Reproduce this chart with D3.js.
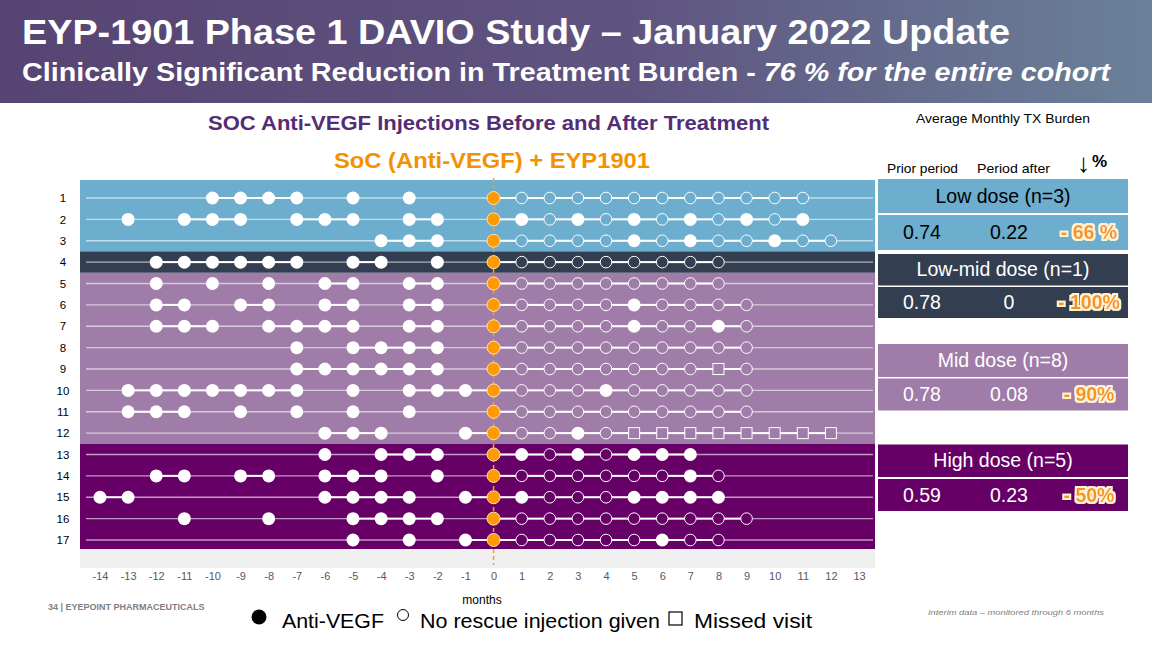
<!DOCTYPE html>
<html><head><meta charset="utf-8">
<script src="https://cdn.jsdelivr.net/npm/d3@7"></script>
<style>body{margin:0;background:#fff;} svg{display:block;font-family:"Liberation Sans",Arial,sans-serif;}</style>
</head><body><svg id="c" width="1152" height="648" font-family="Liberation Sans, Arial, sans-serif"></svg>
<script>
// ---------- DATA ----------
const patients = d3.range(1, 18);
const monthTicks = d3.range(-14, 14);
// months with Anti-VEGF injection before treatment (per patient)
const preInjections = [
  [-10,-9,-8,-7,-5,-3],
  [-13,-11,-10,-9,-7,-6,-5,-3,-2],
  [-4,-3,-2],
  [-12,-11,-10,-9,-8,-7,-5,-4,-2],
  [-12,-10,-8,-6,-5,-3,-2],
  [-12,-11,-9,-8,-6,-5,-3,-2],
  [-12,-11,-10,-8,-7,-6,-5,-3,-2],
  [-7,-5,-4,-3,-2],
  [-7,-6,-5,-4,-3,-2],
  [-13,-12,-11,-10,-9,-8,-7,-5,-3,-2,-1],
  [-13,-12,-11,-9,-7,-5,-3],
  [-6,-5,-4,-1],
  [-6,-4,-3,-2],
  [-12,-11,-9,-8,-6,-5,-4,-2],
  [-14,-13,-6,-5,-4,-3,-1],
  [-11,-8,-5,-4,-3,-2],
  [-5,-3,-1]
];
// visits after treatment, months 1..n : F = Anti-VEGF, O = no rescue injection, S = missed visit
const postVisits = [
  "OOOOOOOOOOO",
  "FOFOFOFOFOF",
  "OOOOFOFOOFOO",
  "OOOOOOOO",
  "OOOOOOOO",
  "OOOOFOOOO",
  "OOOOFOOFO",
  "OOOOOOOOO",
  "OOOOOOOSO",
  "OOOFOOOOO",
  "OOOOOOOOO",
  "OOFOSSSSSSSS",
  "FOFOFFF",
  "OOOOOOFO",
  "FOOOFFFF",
  "OOOOOOOOO",
  "OOOOOFOO"
];
const groupNames = ["Low dose (n=3)", "Low-mid dose (n=1)", "Mid dose (n=8)", "High dose (n=5)"];
const groupFirst = [1, 4, 5, 13];
const groupLast  = [3, 4, 12, 17];
const groupColors = ["#6dadce", "#333f50", "#a07ca8", "#660066"];
const groupText = ["#000", "#fff", "#fff", "#fff"];
const priorPeriod = ["0.74", "0.78", "0.78", "0.59"];
const periodAfter = ["0.22", "0", "0.08", "0.23"];
const reduction = ["- 66 %", "- 100%", "- 90%", "- 50%"];

// ---------- DRAW ----------
const svg = d3.select("#c");
const defs = svg.append("defs");
const hg = defs.append("linearGradient").attr("id","hg").attr("x1","0").attr("x2","1");
hg.append("stop").attr("offset","0").attr("stop-color","#574472");
hg.append("stop").attr("offset","0.55").attr("stop-color","#5f5480");
hg.append("stop").attr("offset","1").attr("stop-color","#6a8199");
const glow = defs.append("filter").attr("id","glow").attr("x","-20%").attr("y","-30%").attr("width","140%").attr("height","160%");
glow.append("feMorphology").attr("in","SourceAlpha").attr("operator","dilate").attr("radius","1.6").attr("result","d");
glow.append("feFlood").attr("flood-color","#fff3d6");
glow.append("feComposite").attr("in2","d").attr("operator","in").attr("result","g");
const fm = glow.append("feMerge");
fm.append("feMergeNode").attr("in","g");
fm.append("feMergeNode").attr("in","SourceGraphic");

// header
svg.append("rect").attr("x",0).attr("y",0).attr("width",1152).attr("height",103).attr("fill","url(#hg)");
svg.append("text").attr("x",22).attr("y",44).attr("fill","#fff").attr("font-weight","bold").attr("font-size",35)
  .attr("textLength",988).attr("lengthAdjust","spacingAndGlyphs")
  .text("EYP-1901 Phase 1 DAVIO Study \u2013 January 2022 Update");
const sub = svg.append("text").attr("x",22).attr("y",81).attr("fill","#fff").attr("font-weight","bold").attr("font-size",25)
  .attr("textLength",1088).attr("lengthAdjust","spacingAndGlyphs");
sub.append("tspan").text("Clinically Significant Reduction in Treatment Burden - ");
sub.append("tspan").attr("font-style","italic").text("76 % for the entire cohort");

// chart titles
svg.append("text").attr("x",208).attr("y",130).attr("fill","#532d75")
  .attr("font-weight","bold").attr("font-size",20).attr("textLength",561).attr("lengthAdjust","spacingAndGlyphs")
  .text("SOC Anti-VEGF Injections Before and After Treatment");
svg.append("text").attr("x",334).attr("y",168).attr("fill","#f39200")
  .attr("font-weight","bold").attr("font-size",22).attr("textLength",316).attr("lengthAdjust","spacingAndGlyphs")
  .text("SoC (Anti-VEGF) + EYP1901");

const x = d3.scaleLinear().domain([-14, 13]).range([100, 859]);
const y = d3.scaleLinear().domain([1, 17]).range([198, 540]);
const step = y(2) - y(1);
const left = 80, right = 875;

// plot backdrop
svg.append("rect").attr("x",left).attr("y",y(1)-18).attr("width",right-left).attr("height",y(17)+28-(y(1)-18)).attr("fill","#f0f0f0");
groupNames.forEach((g,i)=>{
  const t = i===0 ? y(1)-18 : y(groupFirst[i]) - step/2;
  const b = i===3 ? y(17)+9 : y(groupLast[i]) + step/2;
  svg.append("rect").attr("x",left).attr("y",t).attr("width",right-left).attr("height",b-t).attr("fill",groupColors[i]);
});

// zero line
svg.append("line").attr("x1",x(0)).attr("x2",x(0)).attr("y1",y(1)-20).attr("y2",y(17)+25)
  .attr("stroke","#f5a21a").attr("stroke-width",1.5).attr("stroke-dasharray","4,3");

const gRows = svg.append("g");
patients.forEach((p,i)=>{
  const row = gRows.append("g");
  const yy = y(p);
  const bg = groupColors[groupFirst.filter(f=>f<=p).length-1];
  row.append("line").attr("x1",86).attr("x2",873).attr("y1",yy).attr("y2",yy)
    .attr("stroke","#fff").attr("stroke-opacity",0.6).attr("stroke-width",1.3);
  const pts = preInjections[i].map(m=>({m, t:"F"}));
  pts.push({m:0, t:"Z"});
  postVisits[i].split("").forEach((c,k)=>pts.push({m:k+1, t:c}));
  for (let k=1;k<pts.length;k++){
    if (pts[k].m - pts[k-1].m === 1){
      row.append("line").attr("x1",x(pts[k-1].m)).attr("x2",x(pts[k].m)).attr("y1",yy).attr("y2",yy)
        .attr("stroke","#fff").attr("stroke-width",2);
    }
  }
  pts.forEach(d=>{
    if (d.t==="F") row.append("circle").attr("cx",x(d.m)).attr("cy",yy).attr("r",6.5).attr("fill","#fff");
    else if (d.t==="O") row.append("circle").attr("cx",x(d.m)).attr("cy",yy).attr("r",5.8).attr("fill",bg).attr("stroke","#fff").attr("stroke-width",1);
    else if (d.t==="S") row.append("rect").attr("x",x(d.m)-5.5).attr("y",yy-5.5).attr("width",11).attr("height",11).attr("fill",bg).attr("stroke","#fff").attr("stroke-width",1);
    else row.append("circle").attr("cx",x(d.m)).attr("cy",yy).attr("r",6.5).attr("fill","#ff9a00").attr("stroke","#ffe2b0").attr("stroke-width",1);
  });
});

// axes
const xa = svg.append("g").attr("transform",`translate(0,${568})`)
  .call(d3.axisBottom(x).tickValues(monthTicks).tickSize(0).tickPadding(4).tickFormat(d=>String(d)));
xa.select(".domain").remove();
xa.selectAll("text").attr("font-size",11).attr("fill","#595959").attr("font-family","Liberation Sans, Arial");
const ya = svg.append("g").attr("transform",`translate(70,0)`)
  .call(d3.axisLeft(y).tickValues(patients).tickSize(0).tickPadding(7).tickFormat(d=>String(d)));
ya.select(".domain").remove();
ya.selectAll("text").attr("text-anchor","middle").attr("font-size",11.5).attr("fill","#000").attr("font-family","Liberation Sans, Arial");

svg.append("text").attr("x",482).attr("y",604).attr("text-anchor","middle").attr("font-size",12).attr("fill","#000").text("months");

// legend
svg.append("circle").attr("cx",259).attr("cy",617).attr("r",7.5).attr("fill","#000");
svg.append("text").attr("x",282).attr("y",628).attr("font-size",21).attr("fill","#000").attr("textLength",102).attr("lengthAdjust","spacingAndGlyphs").text("Anti-VEGF");
svg.append("circle").attr("cx",403).attr("cy",615).attr("r",5.5).attr("fill","none").attr("stroke","#000").attr("stroke-width",1);
svg.append("text").attr("x",420).attr("y",628).attr("font-size",21).attr("fill","#000").attr("textLength",240).attr("lengthAdjust","spacingAndGlyphs").text("No rescue injection given");
svg.append("rect").attr("x",669).attr("y",612).attr("width",13).attr("height",13).attr("fill","none").attr("stroke","#000").attr("stroke-width",1.2);
svg.append("text").attr("x",694).attr("y",628).attr("font-size",21).attr("fill","#000").attr("textLength",118).attr("lengthAdjust","spacingAndGlyphs").text("Missed visit");

// footer
svg.append("text").attr("x",48).attr("y",610).attr("font-size",9).attr("font-weight","bold").attr("fill","#7f7f7f").text("34 | EYEPOINT PHARMACEUTICALS");
svg.append("text").attr("x",928).attr("y",615).attr("font-size",8).attr("font-style","italic").attr("fill","#808080").attr("textLength",176).attr("lengthAdjust","spacingAndGlyphs").text("Interim data \u2013 monitored through 6 months");

// right table
svg.append("text").attr("x",916).attr("y",123).attr("font-size",13).attr("fill","#000").attr("textLength",174).attr("lengthAdjust","spacingAndGlyphs").text("Average Monthly TX Burden");
svg.append("text").attr("x",887).attr("y",173).attr("font-size",13.5).attr("fill","#000").attr("textLength",71).attr("lengthAdjust","spacingAndGlyphs").text("Prior period");
svg.append("text").attr("x",977).attr("y",173).attr("font-size",13.5).attr("fill","#000").attr("textLength",73).attr("lengthAdjust","spacingAndGlyphs").text("Period after");
svg.append("text").attr("x",1077).attr("y",172).attr("font-size",26).attr("fill","#000").text("\u2193");
svg.append("text").attr("x",1092).attr("y",167).attr("font-size",17).attr("font-weight","bold").attr("fill","#000").text("%");

const boxTops = [179, 254, 344, 444.5];
const hdrH = [34, 31.5, 33, 32.5];
const valTops = [215, 287, 378.5, 479];
const valH = [35, 31, 32, 32];
groupNames.forEach((g,i)=>{
  svg.append("rect").attr("x",878).attr("y",boxTops[i]).attr("width",250).attr("height",hdrH[i]).attr("fill",groupColors[i]);
  svg.append("rect").attr("x",878).attr("y",valTops[i]).attr("width",250).attr("height",valH[i]).attr("fill",groupColors[i]);
  svg.append("text").attr("x",1003).attr("y",boxTops[i]+hdrH[i]/2+6.5).attr("text-anchor","middle")
    .attr("font-size",19.5).attr("fill",groupText[i]).text(g);
  const vy = valTops[i]+valH[i]/2+6.5;
  svg.append("text").attr("x",922).attr("y",vy).attr("text-anchor","middle").attr("font-size",19.5).attr("fill",groupText[i]).text(priorPeriod[i]);
  svg.append("text").attr("x",1009).attr("y",vy).attr("text-anchor","middle").attr("font-size",19.5).attr("fill",groupText[i]).text(periodAfter[i]);
  svg.append("text").attr("x",1089).attr("y",vy).attr("text-anchor","middle").attr("font-size",19.5).attr("font-weight","bold")
    .attr("fill","#f7941d").attr("filter","url(#glow)").text(reduction[i]);
});
</script></body></html>
